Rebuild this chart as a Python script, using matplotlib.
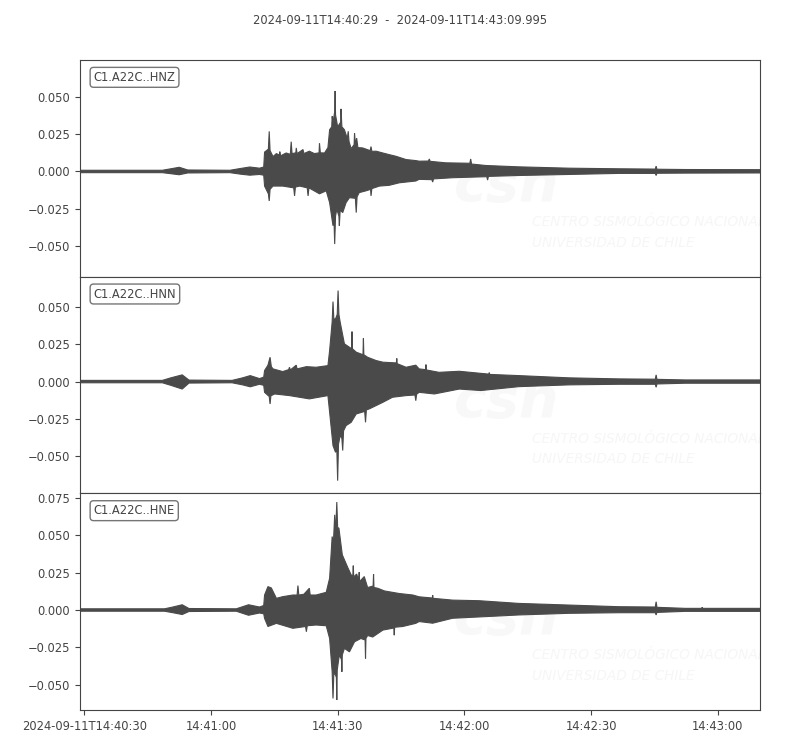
import numpy as np
import matplotlib
matplotlib.use('Agg')
import matplotlib.pyplot as plt

# seconds after 2024-09-11T14:40:29, envelope (max / min)
channels = ['C1.A22C..HNZ', 'C1.A22C..HNN', 'C1.A22C..HNE']

hnz_t_up = [0, 19.5, 21.5, 23.5, 25.5, 35.5, 38.0, 40.2, 42.5, 43.5, 43.7, 44.6, 44.8, 45.0, 45.7,
            46.5, 47.2, 47.3, 47.5, 48.8, 49.8, 50.0, 50.2, 51.1, 51.2, 51.4, 52.8, 53.0, 54.3,
            55.5, 56.6, 56.7, 56.9, 57.9, 58.7, 59.1, 59.6, 59.7, 59.9, 60.3, 60.4, 60.5, 61.0,
            61.7, 61.8, 62.0, 62.6, 63.3, 63.5, 63.7, 64.2, 64.9, 65.0, 65.2, 65.5, 65.8, 66.9,
            68.7, 68.9, 69.1, 70.1, 71.7, 73.2, 74.8, 77.2, 79.5, 80.3, 82.5, 82.7, 82.9, 86.6,
            92.3, 92.5, 92.7, 96.1, 103.9, 115.8, 127.6, 136.2, 136.4, 136.6, 143.3, 161.0]
hnz_up = [.0008, .0008, .0018, .0028, .0010, .0008, .0020, .0030, .0022, .0030, .0130, .0150, .0269,
          .0140, .0100, .0120, .0110, .0133, .0105, .0124, .0115, .0200, .0120, .0125, .0158, .0120,
          .0147, .0120, .0136, .0120, .0125, .0190, .0125, .0124, .0160, .0280, .0300, .0370, .0330,
          .0400, .0540, .0380, .0300, .0330, .0420, .0300, .0280, .0220, .0270, .0200, .0153, .0180,
          .0258, .0180, .0224, .0160, .0158, .0140, .0167, .0135, .0136, .0124, .0113, .0102, .0080,
          .0073, .0069, .0070, .0084, .0068, .0058, .0055, .0084, .0050, .0040, .0031, .0022, .0018,
          .0016, .0036, .0015, .0013, .0012]
hnz_t_lo = [0, 19.5, 21.5, 23.5, 25.5, 35.5, 38.0, 40.2, 42.5, 43.5, 43.7, 44.6, 44.8, 45.0, 45.7,
            48.0, 50.6, 50.8, 51.0, 52.0, 53.8, 54.0, 54.2, 56.7, 58.3, 59.1, 59.9, 60.1, 60.3,
            60.5, 60.8, 61.3, 61.4, 61.6, 62.2, 63.0, 63.8, 65.2, 65.4, 65.6, 66.1, 67.7, 68.8,
            68.9, 69.1, 70.9, 73.2, 75.6, 79.5, 80.3, 83.3, 83.5, 83.7, 88.2, 96.3, 96.5, 96.7,
            103.9, 115.8, 127.6, 136.2, 136.4, 136.6, 143.3, 161.0]
hnz_lo = [-.0008, -.0008, -.0015, -.0022, -.0010, -.0008, -.0018, -.0025, -.0020, -.0025, -.0098,
          -.0150, -.0198, -.0120, -.0098, -.0098, -.0110, -.0164, -.0105, -.0098, -.0110, -.0164,
          -.0110, -.0150, -.0130, -.0209, -.0364, -.0300, -.0487, -.0300, -.0253, -.0300, -.0364,
          -.0260, -.0276, -.0209, -.0176, -.0180, -.0276, -.0170, -.0142, -.0130, -.0120, -.0164,
          -.0115, -.0098, -.0093, -.0076, -.0064, -.0053, -.0055, -.0071, -.0050, -.0042, -.0035,
          -.0058, -.0033, -.0027, -.0020, -.0013, -.0013, -.0027, -.0012, -.0011, -.0010]

hnn_t_up = [0, 19.5, 21.5, 24.2, 25.8, 36.0, 38.5, 40.3, 42.5, 43.5, 43.7, 44.5, 45.0, 45.3, 45.7,
            48.0, 49.4, 49.6, 49.8, 51.2, 51.4, 53.6, 55.9, 58.7, 59.1, 59.7, 59.9, 60.1, 60.5,
            60.9, 61.1, 61.3, 61.6, 62.6, 63.8, 64.3, 64.4, 64.5, 65.4, 67.0, 67.1, 67.2, 68.1,
            70.1, 71.7, 74.9, 75.0, 75.1, 77.2, 79.5, 80.3, 81.8, 81.9, 82.0, 85.0, 89.8, 96.8,
            96.9, 97.0, 103.9, 115.8, 127.6, 136.2, 136.4, 136.6, 143.3, 161.0]
hnn_up = [.0008, .0008, .0025, .0045, .0010, .0008, .0025, .0040, .0020, .0030, .0074, .0110, .0163,
          .0100, .0085, .0067, .0080, .0096, .0078, .0110, .0085, .0100, .0096, .0107, .0208, .0400,
          .0536, .0420, .0420, .0450, .0610, .0450, .0398, .0253, .0230, .0220, .0335, .0220, .0197,
          .0180, .0290, .0180, .0163, .0141, .0130, .0125, .0155, .0120, .0096, .0110, .0085, .0080,
          .0114, .0078, .0062, .0069, .0050, .0060, .0048, .0040, .0025, .0018, .0016, .0045, .0015,
          .0011, .0011]
hnn_t_lo = [0, 19.5, 21.5, 24.2, 25.8, 36.0, 38.5, 40.3, 42.5, 43.5, 43.7, 44.8, 45.0, 45.2, 46.1,
            49.6, 54.3, 58.7, 59.1, 59.9, 60.5, 60.8, 61.0, 61.2, 61.6, 62.0, 62.2, 62.4, 63.0,
            64.2, 65.4, 67.4, 67.6, 67.8, 68.5, 71.7, 74.0, 77.2, 79.3, 79.5, 79.7, 80.3, 83.9,
            89.8, 94.9, 103.9, 115.8, 127.6, 136.2, 136.4, 136.6, 143.3, 161.0]
hnn_lo = [-.0008, -.0008, -.0025, -.0050, -.0010, -.0008, -.0022, -.0035, -.0018, -.0025, -.0072,
          -.0100, -.0150, -.0095, -.0083, -.0094, -.0116, -.0094, -.0205, -.0429, -.0474, -.0450,
          -.0664, -.0420, -.0362, -.0380, -.0462, -.0330, -.0295, -.0273, -.0217, -.0200, -.0273,
          -.0190, -.0183, -.0139, -.0105, -.0094, -.0090, -.0128, -.0085, -.0072, -.0083, -.0050,
          -.0060, -.0034, -.0022, -.0018, -.0018, -.0038, -.0016, -.0011, -.0011]

hne_t_up = [0, 20.0, 22.0, 24.2, 25.8, 37.0, 38.5, 39.9, 42.5, 43.5, 43.7, 44.5, 45.3, 46.5, 48.0,
            50.4, 51.4, 51.6, 51.8, 53.0, 54.3, 54.5, 55.9, 58.3, 59.1, 59.7, 60.0, 60.3, 60.5,
            60.8, 61.0, 61.3, 62.1, 63.4, 64.2, 64.6, 64.7, 64.8, 65.5, 66.0, 66.1, 66.2, 67.3,
            68.1, 69.4, 69.5, 69.6, 70.5, 72.1, 75.6, 78.8, 80.3, 83.4, 83.5, 83.6, 88.2, 94.5,
            103.9, 115.8, 127.6, 136.2, 136.4, 136.6, 143.3, 147.2, 147.3, 147.4, 161.0]
hne_up = [.0008, .0008, .0020, .0035, .0010, .0008, .0022, .0035, .0020, .0030, .0100, .0156, .0147,
          .0078, .0089, .0100, .0100, .0163, .0100, .0105, .0145, .0100, .0100, .0118, .0212, .0490,
          .0450, .0635, .0500, .0720, .0550, .0546, .0368, .0283, .0234, .0230, .0296, .0220, .0240,
          .0200, .0252, .0190, .0223, .0150, .0160, .0240, .0150, .0145, .0127, .0110, .0100, .0088,
          .0080, .0099, .0078, .0066, .0062, .0044, .0033, .0022, .0020, .0055, .0018, .0011, .0011,
          .0018, .0011, .0011]
hne_t_lo = [0, 20.0, 22.0, 24.2, 25.8, 37.0, 38.5, 39.9, 42.5, 43.5, 43.7, 44.5, 46.5, 50.4, 53.4,
            53.6, 53.8, 55.9, 58.3, 59.1, 59.7, 59.9, 60.1, 60.5, 60.7, 60.8, 60.9, 61.4, 61.9,
            62.0, 62.1, 62.6, 63.8, 65.0, 66.5, 67.5, 67.6, 67.7, 68.1, 69.3, 71.7, 74.3, 74.4,
            74.5, 76.4, 79.5, 80.3, 83.5, 88.2, 96.1, 103.9, 115.8, 127.6, 136.2, 136.4, 136.6,
            143.3, 161.0]
hne_lo = [-.0008, -.0008, -.0018, -.0030, -.0010, -.0008, -.0022, -.0035, -.0020, -.0025, -.0056,
          -.0110, -.0089, -.0122, -.0110, -.0145, -.0105, -.0100, -.0105, -.0190, -.0412, -.0590,
          -.0420, -.0434, -.0450, -.0600, -.0400, -.0300, -.0330, -.0412, -.0300, -.0256, -.0279,
          -.0212, -.0190, -.0200, -.0323, -.0190, -.0170, -.0180, -.0134, -.0120, -.0168, -.0115,
          -.0110, -.0089, -.0077, -.0088, -.0055, -.0044, -.0033, -.0022, -.0018, -.0018, -.0033,
          -.0016, -.0009, -.0009]

ylims = [(-0.0706, 0.0748), (-0.0749, 0.0703), (-0.0667, 0.0778)]
yticks = [[-0.05, -0.025, 0.0, 0.025, 0.05],
          [-0.05, -0.025, 0.0, 0.025, 0.05],
          [-0.05, -0.025, 0.0, 0.025, 0.05, 0.075]]

tick_pos = [1, 31, 61, 91, 121, 151]
tick_lab = ['2024-09-11T14:40:30', '14:41:00', '14:41:30', '14:42:00', '14:42:30', '14:43:00']
t_end = 160.995

traces = [(hnz_t_up, hnz_up, hnz_t_lo, hnz_lo),
          (hnn_t_up, hnn_up, hnn_t_lo, hnn_lo),
          (hne_t_up, hne_up, hne_t_lo, hne_lo)]

col = '#4a4a4a'
txt = '#444444'
fs = 8.3
plt.rcParams['font.family'] = ['DejaVu Sans']

fig = plt.figure(figsize=(8, 7.5), dpi=100)
top, bot = 0.92, 0.0533
h = (top - bot) / 3.0
for i in range(3):
    ax = fig.add_axes([0.1, top - (i + 1) * h, 0.85, h])
    tu, au, tl, al = [np.array(v) for v in traces[i]]
    # faint CSN watermark
    ax.text(0.55, 0.42, 'csn', transform=ax.transAxes, fontsize=40, fontstyle='italic',
            fontweight='bold', color='#f8f8f8', va='center', ha='left', zorder=0)
    ax.text(0.665, 0.253, 'CENTRO SISMOLÓGICO NACIONAL', transform=ax.transAxes, fontsize=9.8,
            fontstyle='italic', color='#f6f6f6', va='center', zorder=0, clip_on=True)
    ax.text(0.665, 0.157, 'UNIVERSIDAD DE CHILE', transform=ax.transAxes, fontsize=9.8,
            fontstyle='italic', color='#f6f6f6', va='center', zorder=0, clip_on=True)
    ax.fill(np.concatenate([tu, tl[::-1]]), np.concatenate([au, al[::-1]]),
            facecolor=col, edgecolor=col, lw=0.8, zorder=2)
    ax.set_xlim(0, t_end)
    ax.set_ylim(*ylims[i])
    ax.set_yticks(yticks[i])
    ax.tick_params(colors=txt, labelsize=fs, labelcolor=txt)
    for s in ax.spines.values():
        s.set_color(txt)
    ax.text(0.02, 0.95, channels[i], transform=ax.transAxes, va='top', ha='left',
            fontsize=fs, color=txt,
            bbox=dict(boxstyle='round,pad=0.3', facecolor='white', edgecolor='#666666', alpha=0.9))
    ax.set_xticks(tick_pos)
    if i < 2:
        ax.tick_params(axis='x', which='both', bottom=False, labelbottom=False)
    else:
        ax.set_xticklabels(tick_lab)

fig.text(0.5, 0.973, '2024-09-11T14:40:29  -  2024-09-11T14:43:09.995', ha='center', va='center',
         fontsize=fs, color=txt)

fig.savefig('out.png', dpi=100)
